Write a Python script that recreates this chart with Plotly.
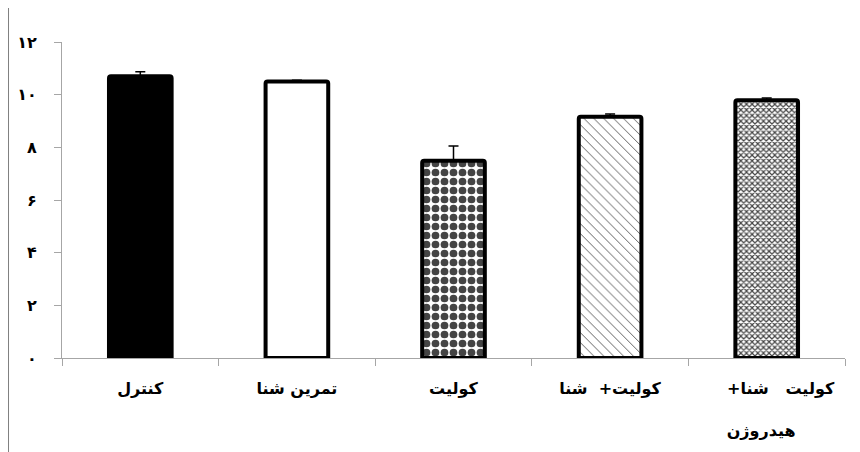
import plotly.graph_objects as go

NB = "\u00a0"
RLM = "\u200f"

# ---- data ----
categories = [
    "کنترل",
    "تمرین شنا",
    "کولیت",
    "کولیت+" + NB * 2 + "شنا",
    NB * 5 + "کولیت" + NB * 3 + "شنا+" + RLM + "<br><br>هیدروژن" + NB * 2,
]
values = [10.70, 10.50, 7.49, 9.16, 9.79]
errors = [0.17, 0.05, 0.56, 0.11, 0.08]
y_tick_vals = [0, 2, 4, 6, 8, 10, 12]
y_tick_text = ["۰", "۲", "۴", "۶", "۸", "۱۰", "۱۲"]

# ---- styles ----
bar_colors = ["black", "white", "white", "white", "white"]
pattern_shapes = ["", "", ".", "\\", "x"]
pattern_sizes = [8, 8, 9, 7, 4]
pattern_solidity = [0.3, 0.3, 0.58, 0.12, 0.5]
pattern_fg = ["black", "black", "black", "black", "#1a1a1a"]

fig = go.Figure()
fig.add_trace(go.Bar(
    x=categories,
    y=values,
    width=0.4,
    marker=dict(
        color=bar_colors,
        line=dict(color="black", width=4),
        cornerradius=2,
        pattern=dict(
            shape=pattern_shapes,
            size=pattern_sizes,
            solidity=pattern_solidity,
            fgcolor=pattern_fg,
            fgopacity=1,
        ),
    ),
    error_y=dict(
        type="data",
        symmetric=False,
        array=errors,
        arrayminus=[0] * len(errors),
        color="black",
        thickness=1.5,
        width=5,
    ),
    showlegend=False,
))

axis_gray = "#A6A6A6"
fig.update_layout(
    width=860,
    height=452,
    margin=dict(l=54, r=23, t=34, b=102, autoexpand=False),
    paper_bgcolor="white",
    plot_bgcolor="white",
    font=dict(family="DejaVu Sans", color="black"),
    xaxis=dict(
        type="category",
        automargin=False,
        showline=True,
        linecolor=axis_gray,
        linewidth=1,
        ticks="outside",
        tickson="boundaries",
        ticklen=7,
        tickcolor=axis_gray,
        showgrid=False,
        tickfont=dict(family="DejaVu Sans", size=16, weight=700, color="black"),
        ticklabelstandoff=16,
    ),
    yaxis=dict(
        range=[0, 12],
        automargin=False,
        tickvals=y_tick_vals,
        ticktext=y_tick_text,
        showline=True,
        linecolor=axis_gray,
        linewidth=1,
        ticks="outside",
        ticklen=7,
        tickcolor=axis_gray,
        showgrid=False,
        zeroline=False,
        tickfont=dict(family="DejaVu Sans", size=16, weight=700, color="black"),
        ticklabelstandoff=14,
    ),
    shapes=[
        dict(type="line", xref="paper", yref="paper",
             x0=-0.0683, x1=-0.0683, y0=-0.35, y1=1.12,
             line=dict(color="#7F7F7F", width=1)),
    ],
)

fig.write_html("out.html")
